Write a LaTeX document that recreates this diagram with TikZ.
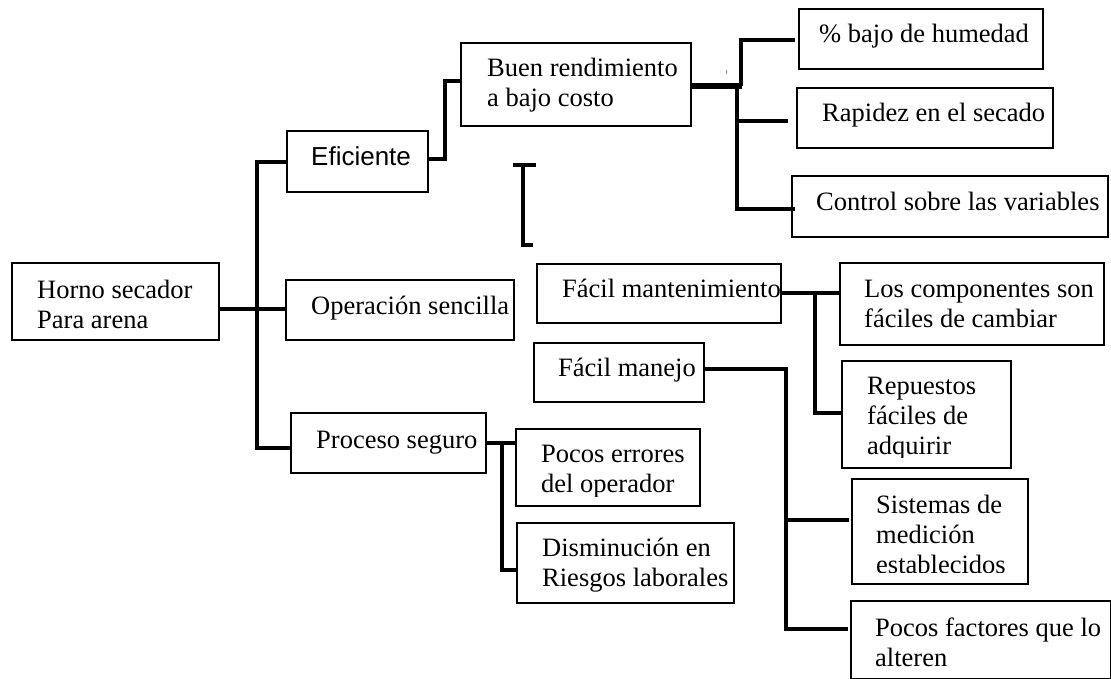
\documentclass[tikz,border=0pt]{standalone}
\usepackage{fontspec}
\setmainfont{Liberation Serif}
\newfontfamily\arialfont{Liberation Sans}
\usetikzlibrary{calc}
\definecolor{pentick}{RGB}{90,150,230}
% a box given by its top-left corner, width and height (in px-sized pt)
\newcommand{\placebox}[5]{\node[box, minimum width=#4pt, minimum height=#5pt] (#1) at (#2,#3) {};}
\newcommand{\lines}[1]{\begin{tabular}[t]{@{}l@{}}#1\end{tabular}}
\begin{document}
\begin{tikzpicture}[x=1pt,y=-1pt,
  box/.style={draw, line width=1.6pt, fill=white, inner sep=0pt, anchor=north west},
  lbl/.style={anchor=base west, inner sep=0pt, font=\fontsize{26.5}{30}\selectfont},
  conn/.style={line width=3.2pt},
  heavy/.style={line width=5.6pt},
  mid/.style={line width=4.4pt}]
\fill[white] (0,0) rectangle (1111,679);
\useasboundingbox (0,0) rectangle (1111,679);

% boxes
\placebox{horno}{11}{262}{207}{77}
\placebox{ef}{286}{130}{141}{61}
\placebox{op}{285}{279}{228}{60}
\placebox{ps}{290}{412}{195}{60}
\placebox{buen}{460}{42}{230}{83}
\placebox{hum}{798}{8}{244}{60}
\placebox{rap}{796}{87}{256}{60}
\placebox{ctl}{791}{175}{316}{61}
\placebox{fm}{536}{263}{244}{59}
\placebox{comp}{839}{262}{264}{82}
\placebox{fmj}{533}{342}{170}{59}
\placebox{rep}{841}{360}{169}{107}
\placebox{err}{515}{428}{184}{77}
\placebox{dis}{516}{522}{217}{80}
\placebox{sis}{851}{478}{176}{105}
\placebox{fac}{850}{600}{260}{78}

% labels
\node[lbl] (horno-t) at (37,298) {\lines{Horno secador\\Para arena}};
\node[lbl, font=\arialfont\fontsize{26}{30}\selectfont] (ef-t) at (311,166) {Eficiente};
\node[lbl] (op-t) at (311,314) {Operación sencilla};
\node[lbl] (ps-t) at (316,448) {Proceso seguro};
\node[lbl] (buen-t) at (487,77) {\lines{Buen rendimiento\\a bajo costo}};
\node[lbl] (hum-t) at (819,43) {\% bajo de humedad};
\node[lbl] (rap-t) at (822,122) {Rapidez en el secado};
\node[lbl] (ctl-t) at (816,211) {Control sobre las variables};
\node[lbl] (fm-t) at (562,297) {Fácil mantenimiento};
\node[lbl] (comp-t) at (864,297) {\lines{Los componentes son\\fáciles de cambiar}};
\node[lbl] (fmj-t) at (558,376) {Fácil manejo};
\begin{scope}
  \clip (841,360) rectangle (1010,457);
  \node[lbl] (rep-t) at (867,394) {\lines{Repuestos\\fáciles de\\adquirir}};
\end{scope}
\begin{scope}
  \clip (515,428) rectangle (699,496);
  \node[lbl] (err-t) at (541,462) {\lines{Pocos errores\\del operador}};
\end{scope}
\node[lbl] (dis-t) at (542,556) {\lines{Disminución en\\Riesgos laborales}};
\begin{scope}
  \clip (851,478) rectangle (1027,572);
  \node[lbl] (sis-t) at (876,513) {\lines{Sistemas de\\medición\\establecidos}};
\end{scope}
\node[lbl] (fac-t) at (875,636) {\lines{Pocos factores que lo\\alteren}};

% connectors
\draw[conn] (ef.west |- 0,162) -- (257,162) -- (257,448) -- (ps.west |- 0,448);
\draw[conn] (horno.east |- 0,309) -- ($(op.west |- 0,309)+(2,0)$);
\draw[conn] (ef.east |- 0,159) -- (445,159) -- (445,81) -- (buen.west |- 0,81);
\draw[heavy] (buen.east |- 0,86) -- (742,86);
\draw[conn] (741,86) -- (741,40) -- ($(hum.west |- 0,40)+(-3,0)$);
\draw[conn] (737,86) -- (737,209) -- ($(ctl.west |- 0,209)+(4,0)$);
\draw[conn] (737,121) -- ($(rap.west |- 0,121)+(-8,0)$);
\draw[conn] (fm.east |- 0,293) -- (comp.west |- 0,293);
\draw[conn] (815,293) -- (815,413) -- ($(rep.west |- 0,413)+(2,0)$);
\draw[conn] (fmj.east |- 0,369) -- (786,369) -- (786,629) -- ($(fac.west |- 0,629)+(-2,0)$);
\draw[conn] (786,520) -- ($(sis.west |- 0,520)+(-2,0)$);
\draw[mid] (ps.east |- 0,443) -- (err.west |- 0,443);
\draw[conn] (502,443) -- (502,570) -- (dis.west |- 0,570);

% loose bracket mark and pen tick
\draw[mid] (513,165) -- (536,165);
\draw[conn] (523,165) -- (523,245) -- (533,245);
\draw[line width=0.8pt, pentick] (726,70) -- (726,74);
\end{tikzpicture}
\end{document}
